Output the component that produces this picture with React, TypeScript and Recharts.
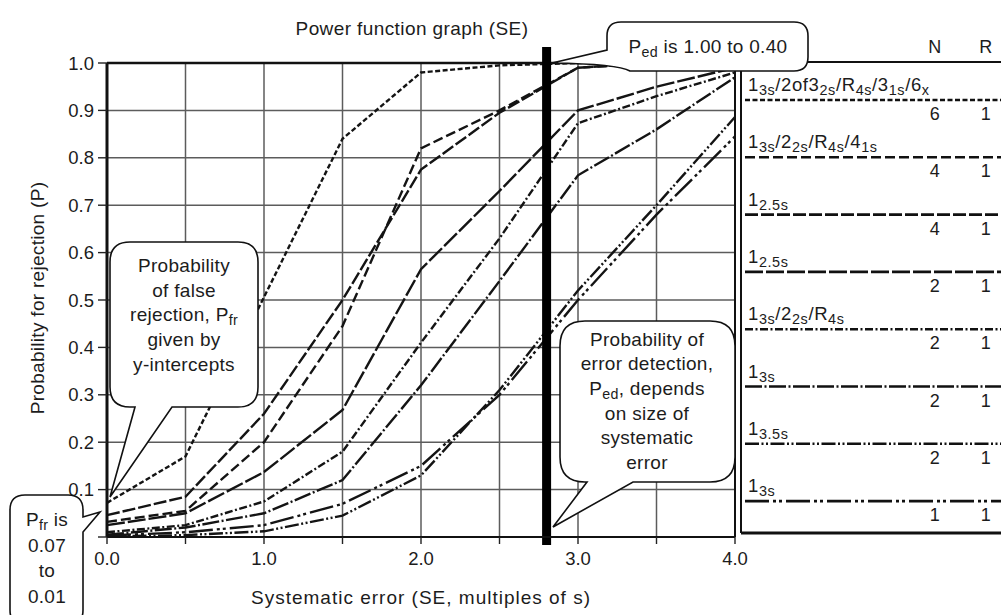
import React from 'react';
import { LineChart, Line, XAxis, YAxis, CartesianGrid, ReferenceLine, Label } from 'recharts';

const FONT = '"Liberation Sans", Arial, Helvetica, sans-serif';
const INK = '#1c1c1c';

// Systematic error (multiples of s)
const SE_VALUES = [0, 0.5, 1.0, 1.5, 2.0, 2.5, 3.0, 3.5, 4.0];
// Probability for rejection for each QC procedure
const P_MULTI_N6 = [0.072, 0.17, 0.506, 0.84, 0.98, 0.995, 1.0, 1.0, 1.0];
const P_MULTI_N4 = [0.032, 0.055, 0.2, 0.445, 0.82, 0.9, 0.99, 1.0, 1.0];
const P_125_N4 = [0.046, 0.085, 0.26, 0.5, 0.775, 0.895, 0.99, 1.0, 1.0];
const P_125_N2 = [0.025, 0.05, 0.137, 0.268, 0.565, 0.73, 0.9, 0.95, 0.99];
const P_MULTI_N2 = [0.01, 0.025, 0.075, 0.18, 0.41, 0.63, 0.873, 0.93, 0.98];
const P_13_N2 = [0.005, 0.02, 0.05, 0.12, 0.32, 0.54, 0.763, 0.86, 0.97];
const P_135_N2 = [0.001, 0.004, 0.012, 0.045, 0.13, 0.31, 0.52, 0.7, 0.886];
const P_13_N1 = [0.003, 0.01, 0.025, 0.07, 0.15, 0.3, 0.5, 0.68, 0.845];

const X_TICKS = [0, 0.5, 1, 1.5, 2, 2.5, 3, 3.5, 4];
const Y_TICKS = [0, 0.1, 0.2, 0.3, 0.4, 0.5, 0.6, 0.7, 0.8, 0.9, 1.0];
const CRITICAL_SE = 2.8;

type Seg = [string, boolean];

// legend order (top to bottom)
const RULE_KEYS = ['m6', 'm4', 'r125n4', 'r125n2', 'm2', 'r13n2', 'r135n2', 'r13n1'];
const RULE_VALUES = [P_MULTI_N6, P_MULTI_N4, P_125_N4, P_125_N2, P_MULTI_N2, P_13_N2, P_135_N2, P_13_N1];
const RULE_LABELS: Seg[][] = [
  [['1', false], ['3s', true], ['/2of3', false], ['2s', true], ['/R', false], ['4s', true], ['/3', false], ['1s', true], ['/6', false], ['x', true]],
  [['1', false], ['3s', true], ['/2', false], ['2s', true], ['/R', false], ['4s', true], ['/4', false], ['1s', true]],
  [['1', false], ['2.5s', true]],
  [['1', false], ['2.5s', true]],
  [['1', false], ['3s', true], ['/2', false], ['2s', true], ['/R', false], ['4s', true]],
  [['1', false], ['3s', true]],
  [['1', false], ['3.5s', true]],
  [['1', false], ['3s', true]],
];
const RULE_N = [6, 4, 4, 2, 2, 2, 2, 1];
const RULE_R = [1, 1, 1, 1, 1, 1, 1, 1];
const RULE_DASH = ['5 2.5', '10 4', '13 3', '18 3', '8 2.5 2 2.5', '17 2.5 2 2.5', '14 2.5 2 2.5 2 2.5', '24 4 3 3 3 4'];

const rows = SE_VALUES.map((se, i) => {
  const r: Record<string, number> = { se };
  RULE_KEYS.forEach((k, j) => { r[k] = RULE_VALUES[j][i]; });
  return r;
});

function Rich({ segs, x, y, size, anchor = 'start', ls = 0.3, subRatio = 0.75 }: { segs: Seg[]; x: number; y: number; size: number; anchor?: string; ls?: number; subRatio?: number }) {
  let sub = false;
  return (
    <text x={x} y={y} fontSize={size} fontFamily={FONT} fill={INK} textAnchor={anchor as any} style={{ letterSpacing: ls }}>
      {segs.map(([t, s], i) => {
        let dy = 0;
        if (s && !sub) dy = 4;
        if (!s && sub) dy = -4;
        sub = s;
        return (
          <tspan key={i} dy={dy} fontSize={s ? size * subRatio : size}>{t}</tspan>
        );
      })}
    </text>
  );
}

const LEG_X0 = 741;
const LEG_TOP = 62;
const LEG_BOTTOM = 533;
const LEG_STEP = 57.3;

function Overlay() {
  const stroke = { stroke: '#111', strokeWidth: 1.6, fill: '#fff' };
  const t = { fontFamily: FONT, fill: INK, fontSize: 19, textAnchor: 'middle' as const, style: { letterSpacing: 0.3 } };
  return (
    <svg width={1001} height={615} style={{ position: 'absolute', left: 0, top: 0, pointerEvents: 'none' }}>
      {/* title */}
      <text x={412} y={35} {...t} fontSize={19} style={{ letterSpacing: 0.4 }}>Power function graph (SE)</text>
      {/* y axis title */}
      <text x={37} y={298} {...t} fontSize={19} transform="rotate(-90 37 298)" dominantBaseline="central">Probability for rejection (P)</text>

      {/* legend panel */}
      <line x1={LEG_X0} y1={LEG_TOP} x2={LEG_X0} y2={LEG_BOTTOM} stroke="#111" strokeWidth={2} />
      <line x1={LEG_X0} y1={LEG_TOP} x2={1001} y2={LEG_TOP} stroke="#111" strokeWidth={2} />
      <line x1={LEG_X0} y1={LEG_BOTTOM} x2={1001} y2={LEG_BOTTOM} stroke="#111" strokeWidth={3} />
      <text x={935} y={53} {...t} fontSize={18}>N</text>
      <text x={986} y={53} {...t} fontSize={18}>R</text>
      {RULE_LABELS.map((segs, i) => {
        const base = 91 + i * LEG_STEP;
        return (
          <g key={i}>
            <Rich segs={segs} x={748} y={base} size={18.5} ls={0.6} subRatio={0.78} />
            <line x1={745} y1={base + 9} x2={1001} y2={base + 9} stroke="#111" strokeWidth={2.6} strokeDasharray={RULE_DASH[i]} />
            <text x={935} y={base + 29} {...t} fontSize={18}>{RULE_N[i]}</text>
            <text x={986} y={base + 29} {...t} fontSize={18}>{RULE_R[i]}</text>
          </g>
        );
      })}

      {/* callout: false rejection */}
      <path d="M 130 242 H 238 Q 258 242 258 262 V 387 Q 258 407 238 407 H 172 L 110 497 L 135 407 H 130 Q 110 407 110 387 V 262 Q 110 242 130 242 Z" {...stroke} />
      <text x={184} y={272} {...t}>Probability</text>
      <text x={184} y={297} {...t}>of false</text>
      <Rich segs={[['rejection, P', false], ['fr', true]]} x={184} y={321} size={19} anchor="middle" />
      <text x={184} y={346} {...t}>given by</text>
      <text x={184} y={371} {...t}>y-intercepts</text>

      {/* callout: Pfr range */}
      <path d="M 25 495 H 68 Q 83 495 83 510 V 517 L 100 512 L 83 532 V 610 Q 83 625 68 625 H 25 Q 10 625 10 610 V 510 Q 10 495 25 495 Z" {...stroke} />
      <Rich segs={[['P', false], ['fr', true], [' is', false]]} x={47} y={526} size={19} anchor="middle" />
      <text x={47} y={552} {...t}>0.07</text>
      <text x={47} y={577} {...t}>to</text>
      <text x={47} y={603} {...t}>0.01</text>

      {/* callout: error detection */}
      <path d="M 585 321 H 710 Q 735 321 735 346 V 457 Q 735 482 710 482 H 633 L 553 527 L 587 482 H 585 Q 560 482 560 457 V 346 Q 560 321 585 321 Z" {...stroke} />
      <text x={647} y={346} {...t}>Probability of</text>
      <text x={647} y={370} {...t}>error detection,</text>
      <Rich segs={[['P', false], ['ed', true], [', depends', false]]} x={647} y={395} size={19} anchor="middle" />
      <text x={647} y={420} {...t}>on size of</text>
      <text x={647} y={444} {...t}>systematic</text>
      <text x={647} y={469} {...t}>error</text>

      {/* callout: Ped range */}
      <path d="M 621 22 H 794 Q 808 22 808 36 V 57 Q 808 71 794 71 H 630 Q 618 64 552 63 L 607 50 V 36 Q 607 22 621 22 Z" {...stroke} />
      <Rich segs={[['P', false], ['ed', true], [' is 1.00 to 0.40', false]]} x={708} y={53} size={19} anchor="middle" />
    </svg>
  );
}

export default function App() {
  return (
    <div style={{ position: 'absolute', left: 0, top: 0, width: 1001, height: 615, background: '#fff' }}>
      <LineChart width={1001} height={615} data={rows} margin={{ top: 63, right: 266, bottom: 0, left: 0 }}>
        <CartesianGrid stroke="#5c5c5c" strokeWidth={1.5} />
        <XAxis
          dataKey="se"
          type="number"
          domain={[0, 4]}
          ticks={X_TICKS}
          interval={0}
          height={78}
          tickSize={7}
          tickMargin={8}
          tickFormatter={(v: number) => (Number.isInteger(v) ? v.toFixed(1) : '')}
          tick={{ fill: INK, fontSize: 18.5, fontFamily: FONT }}
          axisLine={{ stroke: '#111', strokeWidth: 2 }}
          tickLine={{ stroke: '#222', strokeWidth: 1.4 }}
        >
          <Label value="Systematic error (SE, multiples of s)" position="insideBottom" offset={11} style={{ fill: INK, fontSize: 19, fontFamily: FONT, letterSpacing: 1 }} />
        </XAxis>
        <YAxis
          type="number"
          domain={[0, 1]}
          ticks={Y_TICKS}
          interval={0}
          width={107}
          tickSize={9}
          tickMargin={4}
          tickFormatter={(v: number) => (v === 0 ? '' : v.toFixed(1))}
          tick={{ fill: INK, fontSize: 18.5, fontFamily: FONT }}
          axisLine={{ stroke: '#111', strokeWidth: 3 }}
          tickLine={{ stroke: '#222', strokeWidth: 1.4 }}
        />
        <ReferenceLine y={1} stroke="#111" strokeWidth={2.5} />
        <ReferenceLine x={4} stroke="#111" strokeWidth={2} />
        {RULE_KEYS.map((k, i) => (
          <Line
            key={k}
            dataKey={k}
            type="linear"
            stroke="#141414"
            strokeWidth={2.4}
            strokeDasharray={RULE_DASH[i]}
            dot={false}
            activeDot={false}
            isAnimationActive={false}
          />
        ))}
        <ReferenceLine
          segment={[{ x: CRITICAL_SE, y: -0.017 }, { x: CRITICAL_SE, y: 1.034 }]}
          ifOverflow="visible"
          stroke="#000"
          strokeWidth={9}
        />
      </LineChart>
      <Overlay />
    </div>
  );
}
